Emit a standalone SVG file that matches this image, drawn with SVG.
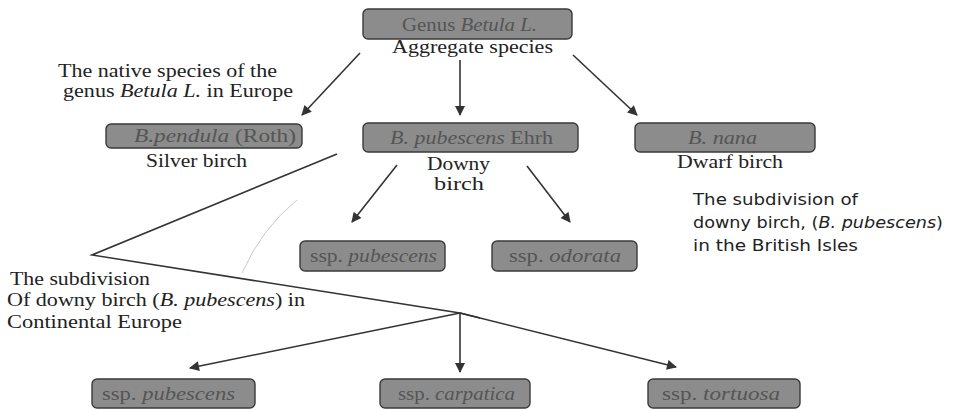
<svg xmlns="http://www.w3.org/2000/svg" width="957" height="410" viewBox="0 0 957 410">
<style>
.box{fill:#8c8c8c;stroke:#3a3a3a;stroke-width:1.4}
.bt{font-family:"Liberation Serif",serif;font-size:18px;fill:#555}
.lb{font-family:"Liberation Serif",serif;font-size:18px;fill:#222}
.sl{font-family:"DejaVu Sans",sans-serif;font-size:16px;fill:#222}
.c{stroke:#333;stroke-width:1.6;fill:none}
.a{marker-end:url(#ah)}
</style>
<defs>
<marker id="ah" viewBox="0 0 10 10" refX="9" refY="5" markerWidth="11" markerHeight="10" orient="auto" markerUnits="userSpaceOnUse">
<path d="M0,0 L10,5 L0,10 z" fill="#333"/>
</marker>
</defs>
<rect width="957" height="410" fill="#fff"/>
<g id="connectors">
<line class="c a" x1="360" y1="53" x2="302" y2="115"/>
<line class="c a" x1="460" y1="60" x2="460" y2="115"/>
<line class="c a" x1="573" y1="55" x2="637" y2="115"/>
<line class="c a" x1="397" y1="165" x2="352" y2="222"/>
<line class="c a" x1="527" y1="166" x2="570" y2="222"/>
<polyline class="c" points="337,154 92,255 460,313 480,318"/>
<line class="c a" x1="460" y1="313" x2="190" y2="368"/>
<line class="c a" x1="460" y1="313" x2="460" y2="372"/>
<line class="c a" x1="460" y1="313" x2="676" y2="367"/>
<path d="M297,200 Q262,228 242,273" stroke="#bbb" stroke-width="0.8" fill="none"/>
</g>
<g id="genus">
<rect class="box" x="363" y="9" width="209" height="30" rx="5"/>
<text class="bt" x="402" y="31" textLength="135" lengthAdjust="spacingAndGlyphs">Genus <tspan font-style="italic">Betula L.</tspan></text>
<text class="lb" x="392" y="53" textLength="161" lengthAdjust="spacingAndGlyphs">Aggregate species</text>
</g>
<g id="native-label">
<text class="lb" x="58" y="77" textLength="219" lengthAdjust="spacingAndGlyphs">The native species of the</text>
<text class="lb" x="63" y="97" textLength="230" lengthAdjust="spacingAndGlyphs">genus <tspan font-style="italic">Betula L.</tspan> in Europe</text>
</g>
<g id="pendula">
<rect class="box" x="106" y="124" width="196" height="24" rx="5"/>
<text class="bt" x="134" y="142" textLength="162" lengthAdjust="spacingAndGlyphs"><tspan font-style="italic">B.pendula</tspan> (Roth)</text>
<text class="lb" x="146" y="167" textLength="101" lengthAdjust="spacingAndGlyphs">Silver birch</text>
</g>
<g id="pubescens">
<rect class="box" x="363" y="123" width="215" height="29" rx="5"/>
<text class="bt" x="390" y="144" textLength="163" lengthAdjust="spacingAndGlyphs"><tspan font-style="italic">B. pubescens</tspan> Ehrh</text>
<text class="lb" x="427" y="170" textLength="63" lengthAdjust="spacingAndGlyphs">Downy</text>
<text class="lb" x="434" y="190" textLength="50" lengthAdjust="spacingAndGlyphs">birch</text>
</g>
<g id="nana">
<rect class="box" x="635" y="123" width="180" height="29" rx="5"/>
<text class="bt" x="688" y="144" textLength="69" lengthAdjust="spacingAndGlyphs" font-style="italic">B. nana</text>
<text class="lb" x="677" y="168" textLength="106" lengthAdjust="spacingAndGlyphs">Dwarf birch</text>
</g>
<g id="ssp-pubescens-bi">
<rect class="box" x="300" y="241" width="145" height="30" rx="5"/>
<text class="bt" x="310" y="262" textLength="127" lengthAdjust="spacingAndGlyphs">ssp. <tspan font-style="italic">pubescens</tspan></text>
</g>
<g id="ssp-odorata">
<rect class="box" x="492" y="241" width="145" height="30" rx="5"/>
<text class="bt" x="509" y="262" textLength="112" lengthAdjust="spacingAndGlyphs">ssp. <tspan font-style="italic">odorata</tspan></text>
</g>
<g id="british-label">
<text class="sl" x="693" y="205" textLength="165" lengthAdjust="spacingAndGlyphs">The subdivision of</text>
<text class="sl" x="693" y="228" textLength="250" lengthAdjust="spacingAndGlyphs">downy birch, (<tspan font-style="italic">B. pubescens</tspan>)</text>
<text class="sl" x="693" y="251" textLength="165" lengthAdjust="spacingAndGlyphs">in the British Isles</text>
</g>
<g id="continental-label">
<text class="lb" x="10" y="285" textLength="140" lengthAdjust="spacingAndGlyphs">The subdivision</text>
<text class="lb" x="7" y="306" textLength="298" lengthAdjust="spacingAndGlyphs">Of downy birch (<tspan font-style="italic">B. pubescens</tspan>) in</text>
<text class="lb" x="7" y="328" textLength="175" lengthAdjust="spacingAndGlyphs">Continental Europe</text>
</g>
<g id="ssp-pubescens-ce">
<rect class="box" x="92" y="379" width="163" height="29" rx="5"/>
<text class="bt" x="102" y="400" textLength="133" lengthAdjust="spacingAndGlyphs">ssp. <tspan font-style="italic">pubescens</tspan></text>
</g>
<g id="ssp-carpatica">
<rect class="box" x="380" y="379" width="150" height="29" rx="5"/>
<text class="bt" x="398" y="400" textLength="117" lengthAdjust="spacingAndGlyphs">ssp. <tspan font-style="italic">carpatica</tspan></text>
</g>
<g id="ssp-tortuosa">
<rect class="box" x="648" y="379" width="152" height="29" rx="5"/>
<text class="bt" x="662" y="400" textLength="118" lengthAdjust="spacingAndGlyphs">ssp. <tspan font-style="italic">tortuosa</tspan></text>
</g>
</svg>
